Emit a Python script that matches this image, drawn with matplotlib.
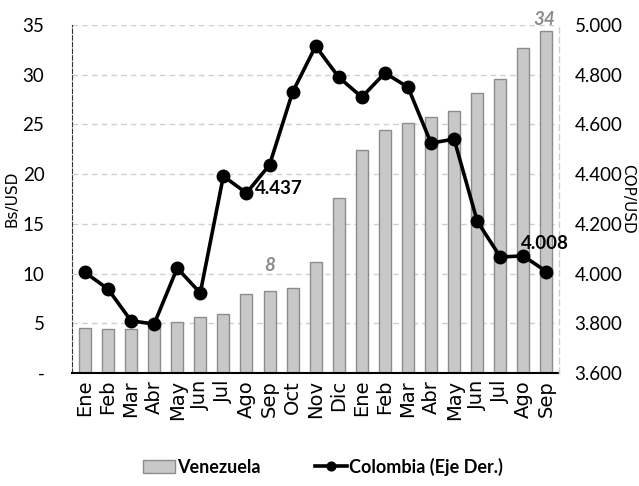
import matplotlib
matplotlib.use("Agg")
import matplotlib.pyplot as plt
import numpy as np
from matplotlib.ticker import FuncFormatter

months = ["Ene", "Feb", "Mar", "Abr", "May", "Jun", "Jul", "Ago", "Sep", "Oct", "Nov", "Dic",
          "Ene", "Feb", "Mar", "Abr", "May", "Jun", "Jul", "Ago", "Sep"]
venezuela = [4.5, 4.4, 4.4, 4.7, 5.1, 5.6, 5.9, 7.9, 8.2, 8.6, 11.2, 17.6,
             22.4, 24.4, 25.1, 25.7, 26.4, 28.2, 29.6, 32.7, 34.4]
colombia = [4005, 3938, 3810, 3797, 4022, 3922, 4392, 4324, 4437, 4730, 4915, 4790,
            4710, 4807, 4750, 4525, 4541, 4211, 4067, 4071, 4008]

plt.rcParams['font.family'] = ['Lato', 'DejaVu Sans']

fig = plt.figure(figsize=(6.39, 4.86), dpi=100)
ax = fig.add_axes([0.113, 0.2325, 0.762, 0.716])
ax2 = ax.twinx()

x = np.arange(len(months))
ax.bar(x, venezuela, width=0.52, color='#c8c8c8', edgecolor='#8c8c8c', linewidth=1.0,
       label='Venezuela', zorder=2)
ax.set_ylim(0, 35)
ax.set_xlim(-0.55, len(months) - 0.45)
ax.set_yticks(np.arange(0, 36, 5))
ax.yaxis.set_major_formatter(FuncFormatter(lambda v, p: '-' if v == 0 else f'{int(v)}'))
ax.grid(axis='y', color='#cfcfcf', linestyle=(0, (4, 3)), linewidth=1.0, zorder=0)
ax.set_axisbelow(True)
ax.set_xticks(x)
ax.set_xticklabels(months, rotation=90, fontsize=14, family='DejaVu Sans')
ax.tick_params(axis='x', length=0, pad=5)
ax.tick_params(axis='y', length=0, labelsize=13.5, pad=20)
ax.set_ylabel('Bs/USD', fontsize=11, family='DejaVu Sans', labelpad=2)

ax.spines['top'].set_visible(False)
ax.spines['left'].set_linestyle((0, (4, 2)))
ax.spines['left'].set_color('#333333')
ax.spines['left'].set_linewidth(0.8)
ax.spines['bottom'].set_color('black')
ax.spines['bottom'].set_linewidth(1.5)
ax.spines['right'].set_visible(False)

ax2.plot(x, colombia, color='black', linewidth=2.6, marker='o', markersize=9,
         label='Colombia (Eje Der.)', zorder=3)
ax2.set_ylim(3600, 5000)
ax2.set_yticks(np.arange(3600, 5001, 200))
ax2.yaxis.set_major_formatter(FuncFormatter(lambda v, p: f'{v/1000:.3f}'))
ax2.tick_params(axis='y', length=0, labelsize=13.5, pad=11)
ax2.set_ylabel('COP/USD', fontsize=11, family='DejaVu Sans', rotation=270, labelpad=9)
for s in ['top', 'left', 'bottom']:
    ax2.spines[s].set_visible(False)
ax2.spines['right'].set_linestyle((0, (4, 3)))
ax2.spines['right'].set_color('#cfcfcf')
ax2.spines['right'].set_linewidth(1.0)

# annotations
ax2.text(x[8] - 0.65, colombia[8] - 95, f'{colombia[8]/1000:.3f}',
         fontsize=13.5, fontweight='bold', ha='left', va='center')
ax2.text(x[20] - 0.05, colombia[20] + 115, f'{colombia[20]/1000:.3f}',
         fontsize=13.5, fontweight='bold', ha='center', va='center')
ax.text(x[8], venezuela[8] + 1.8, f'{int(round(venezuela[8]))}', fontsize=13.5,
        fontweight='bold', fontstyle='italic', color='#8c8c8c', ha='center', va='bottom')
ax.text(x[20] - 0.1, venezuela[20] + 0.3, f'{int(round(venezuela[20]))}', fontsize=13.5,
        fontweight='bold', fontstyle='italic', color='#8c8c8c', ha='center', va='bottom')

h1, l1 = ax.get_legend_handles_labels()
h2, l2 = ax2.get_legend_handles_labels()
fig.legend(h1 + h2, l1 + l2, loc='center', bbox_to_anchor=(0.505, 0.04), ncol=2,
           frameon=False, prop={'weight': 'bold', 'size': 13}, handlelength=1.8,
           handletextpad=0.1, columnspacing=3.0, markerscale=0.7)

fig.savefig('out.png', dpi=100)
